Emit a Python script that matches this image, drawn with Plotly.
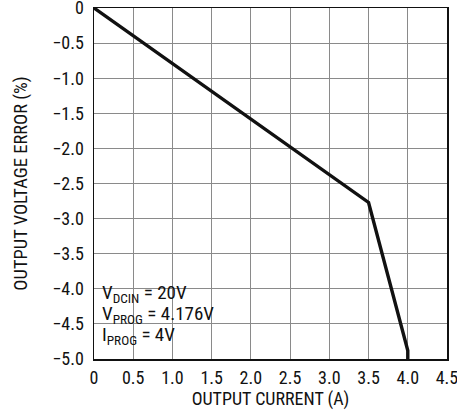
import plotly.graph_objects as go

current = [0.0, 3.5, 4.0, 4.0]
error = [0.0, -2.77, -4.88, -5.0]

x_ticks = [0, 0.5, 1.0, 1.5, 2.0, 2.5, 3.0, 3.5, 4.0, 4.5]
x_labels = ["0", "0.5", "1.0", "1.5", "2.0", "2.5", "3.0", "3.5", "4.0", "4.5"]
y_ticks = [0, -0.5, -1.0, -1.5, -2.0, -2.5, -3.0, -3.5, -4.0, -4.5, -5.0]
y_labels = ["0", "\u22120.5", "\u22121.0", "\u22121.5", "\u22122.0", "\u22122.5",
            "\u22123.0", "\u22123.5", "\u22124.0", "\u22124.5", "\u22125.0"]

cond_lines = ["V<sub>DCIN</sub> = 20V", "V<sub>PROG</sub> = 4.176V", "I<sub>PROG</sub> = 4V"]
cond_y = [-4.06, -4.36, -4.66]

FONT = "Liberation Sans Narrow, Roboto Condensed, Arial Narrow, Liberation Sans, sans-serif"

fig = go.Figure()
fig.add_trace(go.Scatter(x=current, y=error, mode="lines",
                         line=dict(color="#111111", width=3.4),
                         showlegend=False, hoverinfo="skip", cliponaxis=False))

# label box (white background covering grid)
fig.add_shape(type="rect", xref="x", yref="y", x0=0, x1=1.69, y0=-5.0, y1=-3.9,
              fillcolor="white", line=dict(width=0), layer="below")

for txt, yy in zip(cond_lines, cond_y):
    fig.add_annotation(xref="x", yref="y", x=0.08, y=yy, xanchor="left", yanchor="middle",
                       align="left", showarrow=False, text=txt,
                       font=dict(family=FONT, size=19, color="#111111"))

fig.update_layout(
    width=457, height=418,
    margin=dict(l=94, r=10, t=8, b=59, autoexpand=False),
    paper_bgcolor="white", plot_bgcolor="white",
    font=dict(family=FONT, size=18, color="#111111"),
    xaxis=dict(range=[0, 4.5], tickvals=x_ticks, ticktext=x_labels,
               showgrid=True, gridcolor="#8a8a8a", gridwidth=1,
               showline=True, linecolor="#111111", linewidth=1.5, mirror=True,
               zeroline=False, ticks="", ticklen=0, automargin=False,
               ticklabeloverflow="allow", ticklabelstandoff=2,
               title=dict(text="OUTPUT CURRENT (A)", standoff=4,
                          font=dict(family=FONT, size=18)),
               layer="below traces"),
    yaxis=dict(range=[-5.0, 0], tickvals=y_ticks, ticktext=y_labels,
               showgrid=True, gridcolor="#8a8a8a", gridwidth=1,
               showline=True, linecolor="#111111", linewidth=1.5, mirror=True,
               zeroline=False, ticks="", ticklen=0, automargin=False,
               ticklabeloverflow="allow", ticklabelstandoff=5,
               title=dict(text="OUTPUT VOLTAGE ERROR (%)", standoff=20,
                          font=dict(family=FONT, size=18.5)),
               layer="below traces"),
)

fig.write_html("out.html",
               config={"displayModeBar": False, "staticPlot": True},
               post_script="document.body.style.margin='0';document.body.style.overflow='hidden';")
